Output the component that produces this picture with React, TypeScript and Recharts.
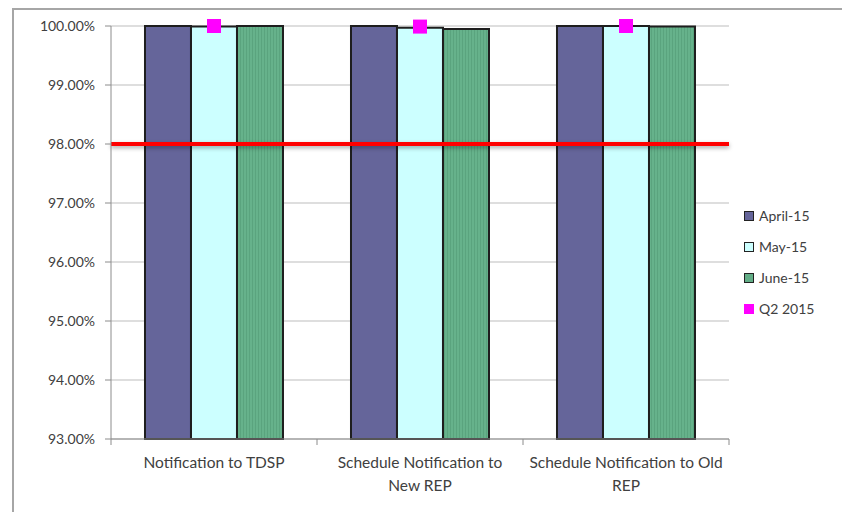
import { ComposedChart, Bar, Line, XAxis, YAxis, CartesianGrid, ReferenceLine, Legend } from "recharts";

const CATEGORIES = [
  "Notification to TDSP",
  "Schedule Notification to New REP",
  "Schedule Notification to Old REP",
];
// how Excel wrapped the category labels
const CATEGORY_LINES = [
  ["Notification to TDSP"],
  ["Schedule Notification to", "New REP"],
  ["Schedule Notification to Old", "REP"],
];
const APRIL_15 = [100, 100, 100];
const MAY_15 = [99.99, 99.97, 100];
const JUNE_15 = [100, 99.95, 99.99];
const Q2_2015 = [100, 99.99, 100];
const Y_TICKS = [93, 94, 95, 96, 97, 98, 99, 100];
const TARGET = 98;

const SERIES = [
  { key: "april", name: "April-15", fill: "#65659a", swatch: "#65659a" },
  { key: "may", name: "May-15", fill: "#ccffff", swatch: "#ccffff" },
  { key: "june", name: "June-15", fill: "url(#greenHatch)", swatch: "#62ad86" },
];

const data = CATEGORIES.map((name, i) => ({
  name,
  april: APRIL_15[i],
  may: MAY_15[i],
  june: JUNE_15[i],
  q2: Q2_2015[i],
}));

const FONT = "Lato, 'Open Sans', sans-serif";
const TEXT = "#404040";
const HALF_BAND = 103;

function CategoryTick({ x, y, index }: any) {
  const lines = CATEGORY_LINES[index] ?? [];
  const last = index === CATEGORIES.length - 1;
  return (
    <g>
      <line x1={x - HALF_BAND} y1={y - 8} x2={x - HALF_BAND} y2={y - 2} stroke="#8c8c8c" />
      {last && <line x1={x + HALF_BAND} y1={y - 8} x2={x + HALF_BAND} y2={y - 2} stroke="#8c8c8c" />}
      {lines.map((t, i) => (
        <text key={t} x={x} y={y + 21 + i * 23} textAnchor="middle" fontSize={15.5} fill={TEXT} fontFamily={FONT}>
          {t}
        </text>
      ))}
    </g>
  );
}

function Q2Dot({ cx, cy, index }: any) {
  return <rect key={`q2-${index}`} x={cx - 7} y={cy - 7} width={14} height={14} fill="#ff00ff" />;
}

function LegendContent() {
  const items = [
    ...SERIES.map((s) => ({ name: s.name, color: s.swatch, border: true })),
    { name: "Q2 2015", color: "#ff00ff", border: false },
  ];
  return (
    <div style={{ fontFamily: FONT, fontSize: 14, color: TEXT }}>
      {items.map((it) => (
        <div key={it.name} style={{ display: "flex", alignItems: "center", height: 31 }}>
          <span
            style={{
              display: "inline-block",
              width: it.border ? 8 : 10,
              height: it.border ? 8 : 10,
              background: it.color,
              border: it.border ? "1px solid #222" : "none",
              marginRight: 5,
            }}
          />
          {it.name}
        </div>
      ))}
    </div>
  );
}

export default function App() {
  return (
    <div style={{ position: "absolute", left: 0, top: 0, width: 842, height: 512, overflow: "hidden", background: "#fff" }}>
      <div
        style={{
          position: "absolute",
          left: 12,
          top: 8,
          width: 900,
          height: 600,
          borderLeft: "2px solid #a6a6a6",
          borderTop: "2px solid #a6a6a6",
        }}
      />
      <div style={{ position: "absolute", left: 0, top: 0 }}>
        <ComposedChart
          width={842}
          height={512}
          data={data}
          margin={{ top: 26, right: 113, bottom: 13, left: 11 }}
          barGap={0}
          barCategoryGap="16.5%"
        >
          <defs>
            <pattern id="greenHatch" width={3} height={4} patternUnits="userSpaceOnUse">
              <rect width={3} height={4} fill="#66b28b" />
              <rect width={1} height={4} fill="#5aa47e" />
            </pattern>
          </defs>
          <CartesianGrid vertical={false} stroke="#bdbdbd" />
          <XAxis
            dataKey="name"
            height={60}
            interval={0}
            tickLine={false}
            axisLine={{ stroke: "#8c8c8c" }}
            tick={<CategoryTick />}
          />
          <YAxis
            domain={[93, 100]}
            ticks={Y_TICKS}
            width={100}
            tickSize={6}
            tickMargin={10}
            axisLine={{ stroke: "#8c8c8c" }}
            tickLine={{ stroke: "#8c8c8c" }}
            tick={{ fontSize: 14, fill: TEXT, fontFamily: FONT }}
            tickFormatter={(v: number) => v.toFixed(2) + "%"}
          />
          {SERIES.map((s) => (
            <Bar
              key={s.key}
              dataKey={s.key}
              name={s.name}
              fill={s.fill}
              stroke="#1e1e1e"
              strokeWidth={2}
              isAnimationActive={false}
            />
          ))}
          <ReferenceLine
            y={TARGET}
            stroke="#ff0000"
            strokeWidth={4}
            style={{ filter: "drop-shadow(0px 2px 2px rgba(0,0,0,0.35))" }}
          />
          <Line
            dataKey="q2"
            name="Q2 2015"
            stroke="none"
            dot={Q2Dot}
            activeDot={false}
            isAnimationActive={false}
          />
          <Legend
            layout="vertical"
            align="center"
            verticalAlign="middle"
            wrapperStyle={{ left: 744, top: 200, width: 100 }}
            content={LegendContent}
          />
        </ComposedChart>
      </div>
    </div>
  );
}
